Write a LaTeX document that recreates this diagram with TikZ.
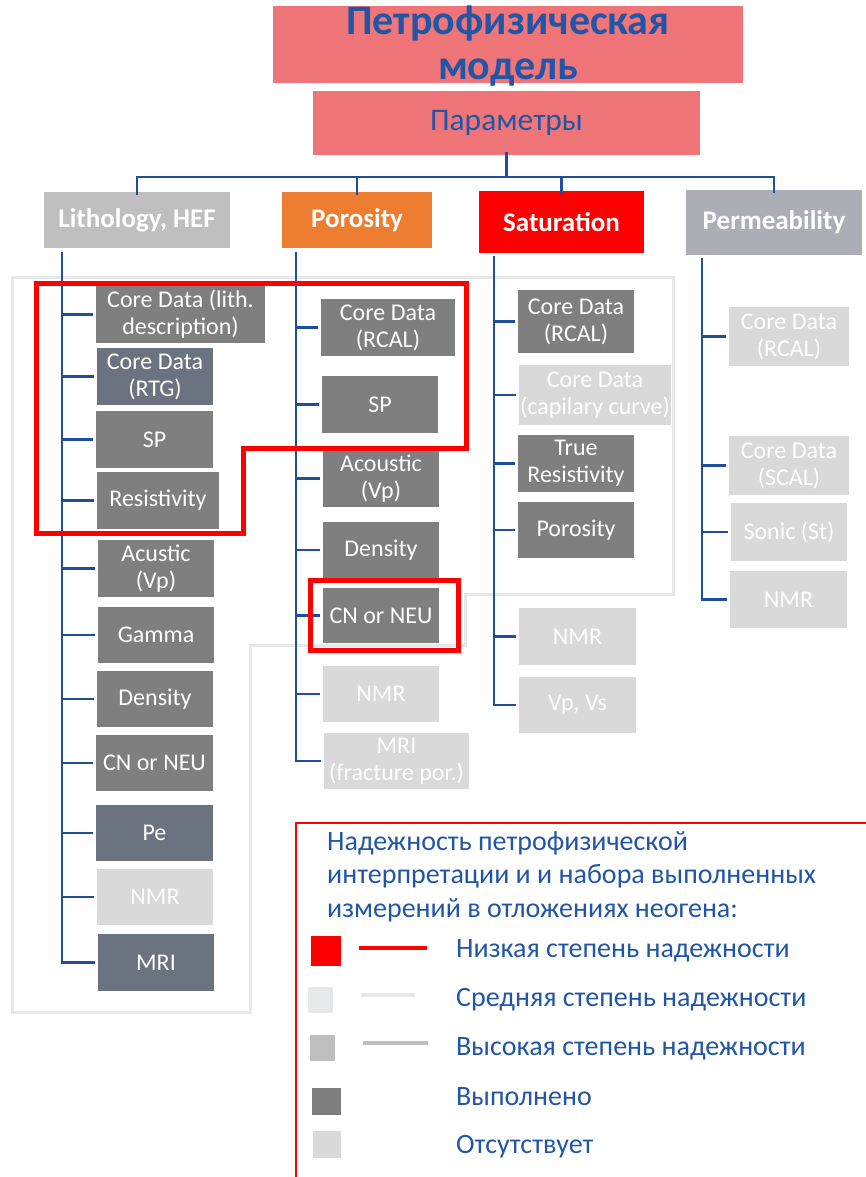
\documentclass[tikz,border=0pt]{standalone}
\usepackage{fontspec}
\setmainfont{Carlito}
\definecolor{lineblue}{HTML}{1F4E9C}
\definecolor{txtblue}{HTML}{2155A5}
\definecolor{titlepink}{HTML}{EF7579}
\definecolor{darkg}{HTML}{7F7F7F}
\definecolor{slateg}{HTML}{6C7380}
\definecolor{lightg}{HTML}{D9D9D9}
\definecolor{medg}{HTML}{BFBFBF}
\definecolor{permg}{HTML}{ABAEB5}
\definecolor{poror}{HTML}{ED7D31}
\definecolor{satred}{HTML}{FF0000}
\definecolor{midline}{HTML}{E7E8EA}
\newcommand{\bx}[7]{\node[#6, minimum width={#4-#2}, minimum height={#5-#3}] (#1) at ({(#2+#4)/2},{(#3+#5)/2}) {#7};}
\begin{document}
\begin{tikzpicture}[x=1pt,y=-1pt,
  item/.style={inner sep=0pt, outer sep=0pt, text=white, align=center, font=\fontsize{24}{27}\selectfont},
  done/.style={item, fill=darkg},
  slate/.style={item, fill=slateg},
  absent/.style={item, fill=lightg},
  head/.style={inner sep=0pt, outer sep=0pt, text=white, font=\fontsize{27}{30}\selectfont\bfseries},
  conn/.style={draw=lineblue, line width=2.8pt},
  redline/.style={draw=satred, line width=5pt},
  midrel/.style={draw=midline, line width=3pt},
  legtxt/.style={inner sep=0pt, text=txtblue, anchor=base west, font=\fontsize{28}{33}\selectfont},
  swatch/.style={inner sep=0pt, outer sep=0pt}
]
\useasboundingbox (0,0) rectangle (866,1177);

% medium reliability outline (behind)
\draw[midrel] (12,277) -- (673,277) -- (673,594) -- (465,594) -- (465,645) -- (250,645) -- (250,1012) -- (12,1012) -- cycle;

% top
\node[fill=titlepink, inner sep=0pt, minimum width=470, minimum height=77] (title) at (508,44.5) {};
\node[inner sep=0pt, anchor=base, text=txtblue, font=\fontsize{42}{45}\selectfont\bfseries] (t1) at (508,35) {Петрофизическая};
\node[inner sep=0pt, anchor=base, text=txtblue, font=\fontsize{42}{45}\selectfont\bfseries] (t2) at (508,80) {модель};
\node[fill=titlepink, inner sep=0pt, outer sep=0pt, minimum width=387, minimum height=64, text=txtblue, font=\fontsize{31.5}{36}\selectfont] (param) at (506.5,123) {Параметры};

% headers
\bx{lith}{44}{192}{230}{248}{head, fill=medg}{Lithology, HEF}
\bx{poro}{282}{192}{432}{248}{head, fill=poror}{Porosity}
\bx{sat}{479}{191}{644}{253}{head, fill=satred}{Saturation}
\bx{perm}{686}{190}{862}{255}{head, fill=permg}{Permeability}

\coordinate (bus) at (0,177);
\draw[conn] ([yshift=3]param.south) -- (param.south |- bus);
\draw[conn] ([yshift=-3]lith.north) -- (lith.north |- bus) -- (perm.north |- bus) -- ([yshift=-3]perm.north);
\draw[conn] ([yshift=-3]poro.north) -- (poro.north |- bus);
\draw[conn] ([yshift=-3]sat.north) -- (sat.north |- bus);

% Lithology children
\bx{l1}{96}{286}{265}{343}{done}{Core Data (lith.\\description)}
\bx{l2}{97}{348}{213}{405}{slate}{Core Data\\(RTG)}
\bx{l3}{96}{411}{213}{468}{done}{SP}
\bx{l4}{97}{472}{219}{529}{done}{Resistivity}
\bx{l5}{98}{540}{214}{597}{done}{Acustic\\(Vp)}
\bx{l6}{98}{607}{214}{663}{done}{Gamma}
\bx{l7}{97}{671}{213}{727}{done}{Density}
\bx{l8}{96}{735}{213}{791}{done}{CN or NEU}
\bx{l9}{96}{805}{213}{861}{slate}{Pe}
\bx{l10}{97}{869}{213}{925}{absent}{NMR}
\bx{l11}{98}{934}{214}{991}{slate}{MRI}

% Porosity children
\bx{p1}{321}{299}{455}{356}{done}{Core Data\\(RCAL)}
\bx{p2}{322}{376}{438}{433}{done}{SP}
\bx{p3}{323}{450}{439}{507}{done}{Acoustic\\(Vp)}
\bx{p4}{323}{522}{439}{578}{done}{Density}
\bx{p5}{323}{588}{439}{643}{done}{CN or NEU}
\bx{p6}{323}{666}{439}{722}{absent}{NMR}
\bx{p7}{324}{733}{469}{789}{absent}{MRI\\(fracture por.)}

% Saturation children
\bx{s1}{518}{290}{634}{353}{done}{Core Data\\(RCAL)}
\bx{s2}{519}{365}{671}{425}{absent}{Core Data\\(capilary curve)}
\bx{s3}{518}{435}{634}{492}{done}{True\\Resistivity}
\bx{s4}{518}{502}{634}{558}{done}{Porosity}
\bx{s5}{519}{608}{636}{665}{absent}{NMR}
\bx{s6}{519}{677}{636}{733}{absent}{Vp, Vs}

% Permeability children
\bx{m1}{729}{307}{849}{366}{absent}{Core Data\\(RCAL)}
\bx{m2}{729}{436}{849}{495}{absent}{Core Data\\(SCAL)}
\bx{m3}{731}{503}{847}{561}{absent}{Sonic (St)}
\bx{m4}{730}{571}{847}{628}{absent}{NMR}

% spines
\coordinate (ls) at (62,0);
\coordinate (ps) at (296,0);
\coordinate (ss) at (494,0);
\coordinate (ms) at (702,0);
\draw[conn] (ls |- lith.south) ++(0,4) |- ([xshift=-3]l11.west);
\foreach \n in {l1,l2,l3,l4,l5,l6,l7,l8,l9,l10} \draw[conn] (ls |- \n.west) -- ([xshift=-3]\n.west);
\draw[conn] (ps |- poro.south) ++(0,4) |- ([xshift=-3]p7.west);
\foreach \n in {p1,p2,p3,p4,p5,p6} \draw[conn] (ps |- \n.west) -- ([xshift=-3]\n.west);
\draw[conn] (ss |- sat.south) ++(0,3) |- ([xshift=-3]s6.west);
\foreach \n in {s1,s2,s3,s4,s5} \draw[conn] (ss |- \n.west) -- ([xshift=-3]\n.west);
\draw[conn] (ms |- perm.south) ++(0,3) |- ([xshift=-3]m4.west);
\foreach \n in {m1,m2,m3} \draw[conn] (ms |- \n.west) -- ([xshift=-3]\n.west);

% low reliability outlines
\draw[redline] (36,283) -- (466,283) -- (466,448) -- (243,448) -- (243,533) -- (36,533) -- cycle;
\draw[redline] ([shift={(-13,-8)}]p5.north west) rectangle ([shift={(19,7)}]p5.south east);

% legend
\draw[draw=satred, line width=2pt] (866,823) -- (296,823) -- (296,1177);
\node[legtxt] (lg1) at (327,850) {Надежность петрофизической};
\node[legtxt] (lg2) at (327,883.5) {интерпретации и и набора выполненных};
\node[legtxt] (lg3) at (327,917) {измерений в отложениях неогена:};

\node[swatch, fill=satred, minimum width=30, minimum height=30] (sw1) at (326,951) {};
\draw[draw=satred, line width=4pt] (359,948) -- (427,948);
\node[legtxt] (lt1) at (456,957) {Низкая степень надежности};

\node[swatch, fill=midline, minimum width=25, minimum height=26] (sw2) at (320.5,1000) {};
\draw[draw=midline, line width=4pt] (361,995) -- (415,995);
\node[legtxt] (lt2) at (456,1006) {Средняя степень надежности};

\node[swatch, fill=medg, minimum width=25, minimum height=26] (sw3) at (322.5,1048) {};
\draw[draw=medg, line width=4pt] (363,1043) -- (428,1043);
\node[legtxt] (lt3) at (456,1055) {Высокая степень надежности};

\node[swatch, fill=darkg, minimum width=29, minimum height=27] (sw4) at (326.5,1101.5) {};
\node[legtxt] (lt4) at (456,1105) {Выполнено};

\node[swatch, fill=lightg, minimum width=28, minimum height=27] (sw5) at (327,1144.5) {};
\node[legtxt] (lt5) at (456,1153) {Отсутствует};
\end{tikzpicture}
\end{document}
